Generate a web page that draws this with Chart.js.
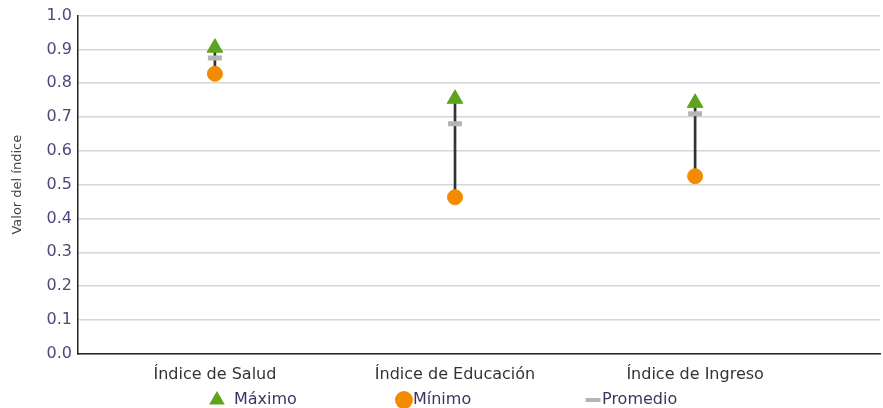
<!DOCTYPE html>
<html>
<head>
<meta charset="utf-8">
<script src="https://cdn.jsdelivr.net/npm/chart.js@4"></script>
<style>
html,body{margin:0;padding:0;background:#fff;}
#wrap{width:883px;height:408px;}
</style>
</head>
<body>
<div id="wrap"><canvas id="c"></canvas></div>
<script>
const categories = ['Índice de Salud', 'Índice de Educación', 'Índice de Ingreso'];
const maximo = [0.905, 0.754, 0.742];
const minimo = [0.828, 0.463, 0.525];
const promedio = [0.875, 0.680, 0.710];
const yTicks = [0.0, 0.1, 0.2, 0.3, 0.4, 0.5, 0.6, 0.7, 0.8, 0.9, 1.0];
const legendOrder = ['Máximo', 'Mínimo', 'Promedio'];

const FONT = 'DejaVu Sans';
const pos = categories.map((_, i) => i + 1);
const pts = arr => arr.map((v, i) => ({x: pos[i], y: v}));

// Legend drawn on the canvas, spaced like the reference
const spacedLegend = {
  id: 'spacedLegend',
  afterDraw(chart) {
    const ctx = chart.ctx;
    const centers = [0.2457, 0.4575, 0.6716]; // fraction of canvas width for marker centres
    const y = chart.height - 8;
    ctx.save();
    ctx.font = '16px "' + FONT + '"';
    ctx.textBaseline = 'middle';
    legendOrder.forEach((name, k) => {
      const ds = chart.data.datasets.find(d => d.label === name);
      const cx = chart.width * centers[k];
      const isLine = ds.pointStyle === 'line';
      const style = {
        pointStyle: ds.pointStyle,
        radius: isLine ? 7.5 : 9,
        borderWidth: isLine ? 4 : 0,
        rotation: 0
      };
      ctx.fillStyle = ds.backgroundColor;
      ctx.strokeStyle = ds.borderColor;
      ctx.lineWidth = style.borderWidth;
      Chart.helpers.drawPoint(ctx, style, cx, y);
      ctx.fillStyle = '#3c3560';
      ctx.textAlign = 'left';
      ctx.fillText(name, cx + (ds.pointStyle === 'triangle' ? 17 : 9), y);
    });
    ctx.restore();
  }
};

new Chart(document.getElementById('c'), {
  data: {
    datasets: [
      {
        type: 'bar', label: 'rango',
        data: categories.map((_, i) => ({x: pos[i], y: [minimo[i], maximo[i]]})),
        backgroundColor: '#333', borderWidth: 0, barThickness: 2, order: 4
      },
      {
        type: 'scatter', label: 'Promedio', data: pts(promedio),
        pointStyle: 'line', pointRadius: 7, borderColor: '#b5b5b5', backgroundColor: '#b5b5b5',
        pointBorderWidth: 5, order: 3
      },
      {
        type: 'scatter', label: 'Mínimo', data: pts(minimo),
        pointStyle: 'circle', pointRadius: 7.5, backgroundColor: '#f28b00', borderColor: '#f28b00',
        order: 2
      },
      {
        type: 'scatter', label: 'Máximo', data: pts(maximo),
        pointStyle: 'triangle', pointRadius: 9, backgroundColor: '#5ea31e', borderColor: '#5ea31e',
        order: 1
      }
    ]
  },
  plugins: [spacedLegend],
  options: {
    responsive: true, maintainAspectRatio: false, animation: false,
    layout: {autoPadding: false, padding: {top: 8, right: 3, left: 10, bottom: 13}},
    plugins: {
      tooltip: {enabled: false},
      legend: {display: false}
    },
    scales: {
      x: {
        type: 'linear', min: 0.43, max: 3.77, offset: false,
        afterBuildTicks: s => { s.ticks = pos.map(v => ({value: v})); },
        ticks: {
          callback: v => categories[v - 1] || '',
          color: '#333', font: {family: FONT, size: 16}, padding: 11
        },
        grid: {display: false, drawTicks: false},
        border: {display: true, color: '#222', width: 1.5}
      },
      y: {
        min: 0, max: 1,
        afterBuildTicks: s => { s.ticks = yTicks.map(v => ({value: v})); },
        ticks: {
          callback: v => v.toFixed(1),
          color: '#4a4a7a', font: {family: FONT, size: 16}, padding: 6
        },
        grid: {color: '#d6d6d6', lineWidth: 1.5, drawTicks: false},
        border: {display: true, color: '#222', width: 1.5},
        title: {display: true, text: 'Valor del índice', color: '#444', font: {family: FONT, size: 13}, padding: {top: 0, bottom: 15}}
      }
    }
  }
});
</script>
</body>
</html>
